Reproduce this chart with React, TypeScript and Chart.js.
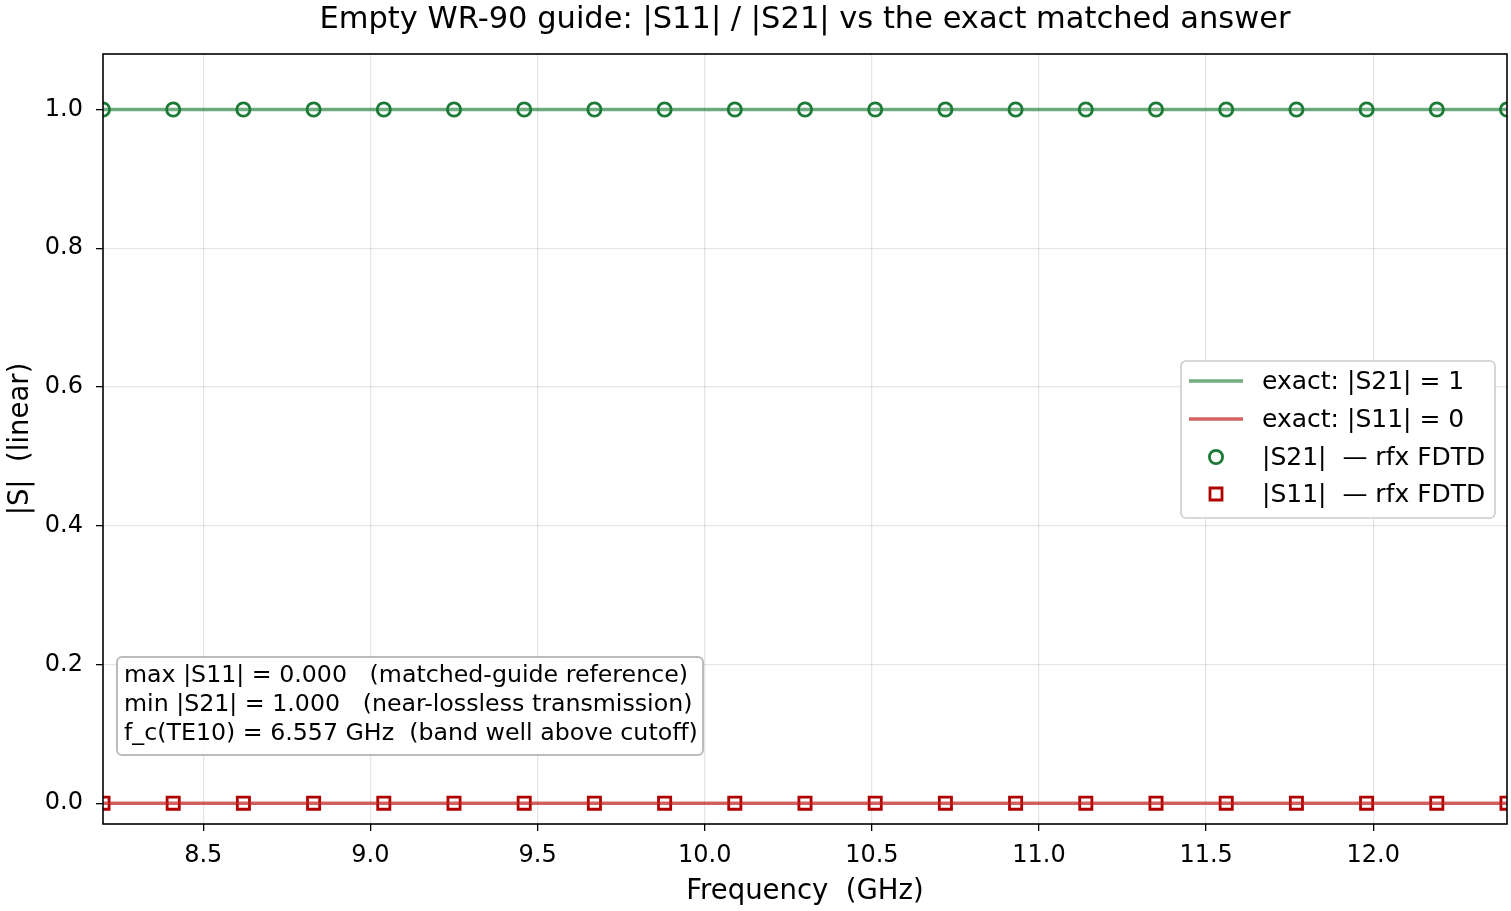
import React, { useEffect, useRef } from "react";
import { Chart, registerables } from "chart.js";

Chart.register(...registerables);

// Frequency sweep across the WR-90 band (GHz)
const freqGHz = [
  8.2, 8.41, 8.62, 8.83, 9.04, 9.25, 9.46, 9.67, 9.88, 10.09, 10.3,
  10.51, 10.72, 10.93, 11.14, 11.35, 11.56, 11.77, 11.98, 12.19, 12.4,
];
// Simulated magnitudes from the FDTD run
const s21Fdtd = [
  1.0, 1.0, 1.0, 1.0, 1.0, 1.0, 1.0, 1.0, 1.0, 1.0, 1.0,
  1.0, 1.0, 1.0, 1.0, 1.0, 1.0, 1.0, 1.0, 1.0, 1.0,
];
const s11Fdtd = [
  0.0, 0.0, 0.0, 0.0, 0.0, 0.0, 0.0, 0.0, 0.0, 0.0, 0.0,
  0.0, 0.0, 0.0, 0.0, 0.0, 0.0, 0.0, 0.0, 0.0, 0.0,
];
// Exact matched-guide answer
const exactS21 = 1;
const exactS11 = 0;

const xTicks = [8.5, 9.0, 9.5, 10.0, 10.5, 11.0, 11.5, 12.0];
const yTicks = [0.0, 0.2, 0.4, 0.6, 0.8, 1.0];

const titleText = "Empty WR-90 guide: |S11| / |S21| vs the exact matched answer";
const xLabel = "Frequency  (GHz)";
const yLabel = "|S|  (linear)";
const legendLabels = [
  "exact: |S21| = 1",
  "exact: |S11| = 0",
  "|S21|  \u2014 rfx FDTD",
  "|S11|  \u2014 rfx FDTD",
];
const noteLines = [
  "max |S11| = 0.000   (matched-guide reference)",
  "min |S21| = 1.000   (near-lossless transmission)",
  "f_c(TE10) = 6.557 GHz  (band well above cutoff)",
];

const FONT = "'DejaVu Sans', sans-serif";
const GREEN = "#1b7a36";
const GREEN_LINE = "rgba(27,122,54,0.62)";
const RED = "#b00000";
const RED_LINE = "rgba(192,32,32,0.7)";

function roundRect(ctx: CanvasRenderingContext2D, x: number, y: number, w: number, h: number, r: number) {
  ctx.beginPath();
  ctx.moveTo(x + r, y);
  ctx.lineTo(x + w - r, y);
  ctx.arcTo(x + w, y, x + w, y + r, r);
  ctx.lineTo(x + w, y + h - r);
  ctx.arcTo(x + w, y + h, x + w - r, y + h, r);
  ctx.lineTo(x + r, y + h);
  ctx.arcTo(x, y + h, x, y + h - r, r);
  ctx.lineTo(x, y + r);
  ctx.arcTo(x, y, x + r, y, r);
  ctx.closePath();
}

const decorations = {
  id: "decorations",
  afterDraw(chart: any) {
    const ctx: CanvasRenderingContext2D = chart.ctx;
    const a = chart.chartArea;
    ctx.save();

    // axes frame
    ctx.strokeStyle = "#000";
    ctx.lineWidth = 1.6;
    ctx.strokeRect(a.left, a.top, a.right - a.left, a.bottom - a.top);

    // title
    ctx.fillStyle = "#000";
    ctx.textAlign = "center";
    ctx.textBaseline = "alphabetic";
    ctx.font = `30.5px ${FONT}`;
    ctx.fillText(titleText, (a.left + a.right) / 2, 28);

    // axis titles
    ctx.font = `27.5px ${FONT}`;
    ctx.fillText(xLabel, (a.left + a.right) / 2, 899);
    ctx.save();
    ctx.translate(28, (a.top + a.bottom) / 2);
    ctx.rotate(-Math.PI / 2);
    ctx.fillText(yLabel, 0, 0);
    ctx.restore();

    // legend
    const lx = 1181, ly = 361, lw = 314, lh = 157;
    roundRect(ctx, lx, ly, lw, lh, 5);
    ctx.fillStyle = "rgba(255,255,255,0.85)";
    ctx.fill();
    ctx.strokeStyle = "#cccccc";
    ctx.lineWidth = 1.6;
    ctx.stroke();
    const rows = [381, 419, 457, 494];
    ctx.lineWidth = 3.5;
    ctx.strokeStyle = GREEN_LINE;
    ctx.beginPath(); ctx.moveTo(1189, rows[0]); ctx.lineTo(1243, rows[0]); ctx.stroke();
    ctx.strokeStyle = RED_LINE;
    ctx.beginPath(); ctx.moveTo(1189, rows[1]); ctx.lineTo(1243, rows[1]); ctx.stroke();
    ctx.lineWidth = 2.8;
    ctx.fillStyle = "#fff";
    ctx.strokeStyle = GREEN;
    ctx.beginPath(); ctx.arc(1216, rows[2], 6.6, 0, Math.PI * 2); ctx.fill(); ctx.stroke();
    ctx.strokeStyle = RED;
    ctx.beginPath(); ctx.rect(1216 - 6, rows[3] - 6, 12, 12); ctx.fill(); ctx.stroke();
    ctx.fillStyle = "#000";
    ctx.textAlign = "left";
    ctx.textBaseline = "middle";
    ctx.font = `25px ${FONT}`;
    legendLabels.forEach((t, i) => ctx.fillText(t, 1262, rows[i] + 1));

    // annotation box
    roundRect(ctx, 117, 657, 586, 98, 5);
    ctx.fillStyle = "rgba(255,255,255,0.85)";
    ctx.fill();
    ctx.strokeStyle = "#bbbbbb";
    ctx.lineWidth = 2;
    ctx.stroke();
    ctx.fillStyle = "#000";
    ctx.font = `23.7px ${FONT}`;
    const lineYs = [676, 705, 734];
    noteLines.forEach((t, i) => ctx.fillText(t, 124, lineYs[i]));

    ctx.restore();
  },
};

export default function App() {
  const ref = useRef<HTMLCanvasElement | null>(null);

  useEffect(() => {
    document.body.style.margin = "0";
    const canvas = ref.current;
    if (!canvas) return;
    const pts = (ys: number[]) => freqGHz.map((f, i) => ({ x: f, y: ys[i] }));
    const flat = (v: number) => freqGHz.map((f) => ({ x: f, y: v }));

    const chart = new Chart(canvas, {
      type: "line",
      data: {
        datasets: [
          {
            label: legendLabels[0],
            data: flat(exactS21),
            borderColor: GREEN_LINE,
            borderWidth: 3.5,
            pointRadius: 0,
            fill: false,
          },
          {
            label: legendLabels[1],
            data: flat(exactS11),
            borderColor: RED_LINE,
            borderWidth: 3.5,
            pointRadius: 0,
            fill: false,
          },
          {
            label: legendLabels[2],
            data: pts(s21Fdtd),
            showLine: false,
            pointStyle: "circle",
            pointRadius: 6.6,
            pointBorderWidth: 2.8,
            pointBorderColor: GREEN,
            pointBackgroundColor: "#fff",
            clip: 0,
          },
          {
            label: legendLabels[3],
            data: pts(s11Fdtd),
            showLine: false,
            pointStyle: "rect",
            pointRadius: 8.6,
            pointBorderWidth: 2.8,
            pointBorderColor: RED,
            pointBackgroundColor: "#fff",
            clip: 0,
          },
        ] as any,
      },
      options: {
        animation: false,
        responsive: false,
        devicePixelRatio: 1,
        layout: { autoPadding: false, padding: { left: 0, top: 54, right: 4, bottom: 0 } },
        plugins: {
          legend: { display: false },
          title: { display: false },
          tooltip: { enabled: false },
        },
        scales: {
          x: {
            type: "linear",
            min: 8.2,
            max: 12.4,
            afterBuildTicks: (s: any) => {
              s.ticks = xTicks.map((v) => ({ value: v }));
            },
            afterFit: (s: any) => {
              s.height = 87;
              s.paddingLeft = 0;
              s.paddingRight = 0;
            },
            ticks: {
              color: "#000",
              font: { family: FONT, size: 24 },
              padding: 10,
              maxRotation: 0,
              autoSkip: false,
              callback: (v: any) => Number(v).toFixed(1),
            },
            grid: {
              color: "rgba(0,0,0,0.1)",
              lineWidth: 1.3,
              tickColor: "#000",
              tickLength: 7,
            },
            border: { display: false },
          },
          y: {
            type: "linear",
            min: -0.03,
            max: 1.08,
            afterBuildTicks: (s: any) => {
              s.ticks = yTicks.map((v) => ({ value: v }));
            },
            afterFit: (s: any) => {
              s.width = 103;
              s.paddingTop = 0;
              s.paddingBottom = 0;
            },
            ticks: {
              color: "#000",
              font: { family: FONT, size: 24 },
              padding: 13,
              autoSkip: false,
              callback: (v: any) => Number(v).toFixed(1),
            },
            grid: {
              color: "rgba(0,0,0,0.1)",
              lineWidth: 1.3,
              tickColor: "#000",
              tickLength: 7,
            },
            border: { display: false },
          },
        },
      },
      plugins: [decorations],
    });

    return () => chart.destroy();
  }, []);

  return (
    <div style={{ width: 1511, height: 911 }}>
      <canvas ref={ref} width={1511} height={911} style={{ display: "block" }} />
    </div>
  );
}
